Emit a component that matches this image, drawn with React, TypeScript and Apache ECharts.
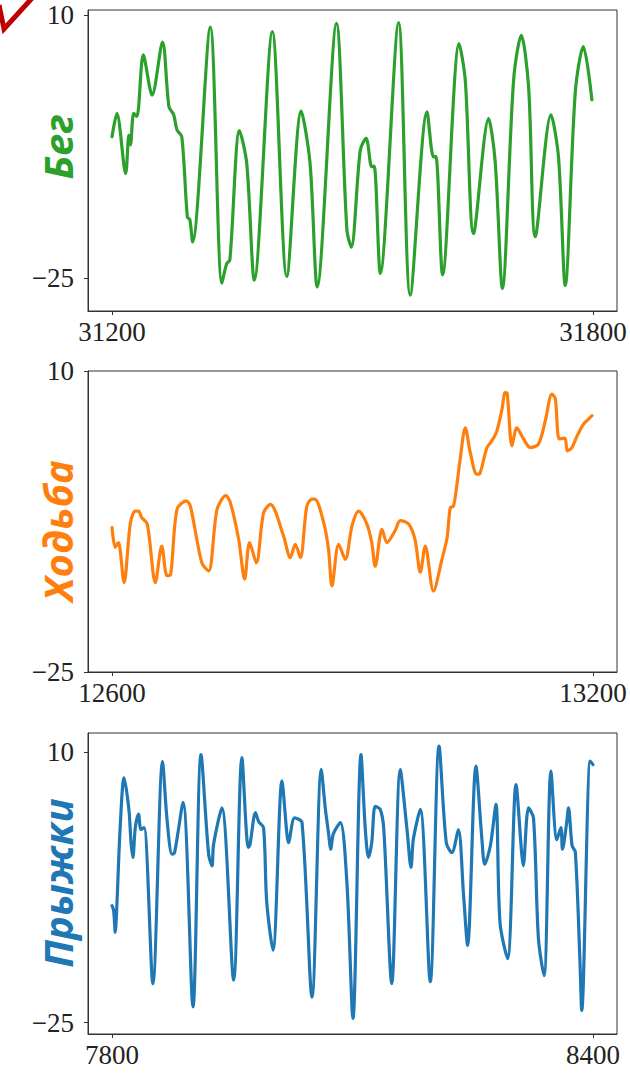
import React, { useEffect, useRef } from "react";
import * as echarts from "echarts";

// ---- Data ----
const runX = [31200, 31206, 31217, 31221, 31223, 31227, 31231, 31239, 31250, 31263, 31271, 31277, 31281, 31287, 31294, 31297, 31300.5, 31322.6, 31337, 31343, 31347, 31359, 31368, 31377.5, 31400, 31418, 31436, 31447, 31456, 31480, 31493, 31498.5, 31509.7, 31517, 31524, 31527, 31534.7, 31557.5, 31572, 31593, 31601, 31604, 31612.4, 31633, 31640.7, 31651, 31669.8, 31678, 31687, 31701, 31710.6, 31719.7, 31728, 31747.6, 31757, 31765.4, 31778, 31788, 31798.7];
const runY = [-6.2, -3.1, -11.1, -6.0, -7.3, -3.1, -3.5, 4.7, -0.65, 6.4, -2.2, -3.3, -5.3, -6.2, -16.9, -17.2, -20.2, 8.4, -25.7, -23.1, -22.6, -5.4, -9.7, -25.3, 7.8, -24.8, -2.8, -9.7, -26.2, 8.9, -18.6, -20.9, -8.0, -6.4, -10.2, -10.1, -24.4, 9.0, -27.3, -2.9, -8.9, -8.8, -24.6, 6.2, 1.35, -19.1, -3.8, -9.5, -26.4, 1.35, 7.3, 0.45, -19.5, -3.3, -8.9, -26.0, -0.2, 5.8, -1.3];

const walkX = [12600, 12604, 12608, 12610, 12615, 12623, 12629, 12633, 12637, 12644, 12654, 12662, 12668.6, 12673, 12681, 12692.7, 12697.7, 12712, 12720.5, 12731, 12742, 12747.6, 12758, 12765.4, 12771.6, 12780, 12789, 12797.5, 12814, 12822.4, 12828.6, 12835, 12843, 12849.5, 12853, 12864, 12870, 12874.4, 12882.7, 12891, 12899.4, 12907.6, 12918, 12924, 12928.4, 12936.8, 12943, 12953, 12959.6, 12970, 12978, 12984.6, 12990.8, 13001, 13011.6, 13018, 13022, 13026, 13030, 13034, 13040.7, 13047, 13055, 13059, 13067.8, 13074, 13080, 13086.4, 13090.5, 13093, 13099, 13105, 13113.4, 13121.8, 13132, 13140.5, 13148.8, 13153, 13158, 13165, 13168, 13173.8, 13180, 13188, 13194.5, 13198.7];
const walkY = [-8.2, -10.5, -9.95, -10.7, -14.6, -7.6, -6.3, -6.3, -7.05, -7.8, -14.6, -10.35, -13.8, -13.7, -6.1, -5.1, -5.7, -12.3, -13.25, -6.1, -4.5, -5.3, -9.6, -14.2, -9.95, -12.3, -6.5, -5.5, -9.2, -11.7, -10.15, -11.7, -5.7, -4.9, -4.9, -7.6, -10.7, -15.0, -10.15, -11.9, -8.0, -6.3, -7.8, -9.95, -12.7, -8.4, -9.95, -8.6, -7.4, -7.8, -9.6, -13.4, -10.35, -15.6, -11.9, -9.4, -5.9, -5.7, -3.4, -0.5, 3.4, 0.5, -2.0, -1.9, 1.1, 1.9, 3.0, 5.5, 7.5, 7.4, 1.3, 3.4, 2.1, 1.1, 1.5, 4.2, 7.3, 6.8, 2.1, 2.2, 0.7, 1.1, 2.4, 3.8, 4.4, 4.8];

const jumpX = [7800, 7802, 7804, 7806, 7810, 7815, 7821, 7823.7, 7826, 7829, 7833, 7836, 7840, 7851, 7863, 7868.6, 7874.8, 7878, 7888.6, 7901, 7911, 7920.5, 7924.7, 7926.7, 7937, 7951.7, 7962, 7970, 7972, 7979, 7983, 7989, 7993, 8000.8, 8012, 8018, 8020, 8027.8, 8037, 8049.5, 8061, 8066, 8070, 8073, 8076, 8084.8, 8093, 8100.6, 8110.6, 8116, 8120, 8124, 8128.4, 8134.6, 8139, 8149, 8159.6, 8168, 8173, 8176, 8184.6, 8197, 8208, 8217, 8224, 8232, 8238.6, 8243.6, 8254, 8261.5, 8265, 8272, 8279, 8284, 8293.5, 8304, 8311, 8313, 8319.6, 8325.8, 8332, 8339, 8347.6, 8355, 8360, 8362, 8367, 8369.5, 8374, 8378, 8383.8, 8386, 8396.6, 8400];
const jumpY = [-9.85, -10.5, -13.3, -9.85, 0.0, 6.7, 2.6, -1.7, -3.6, 0.25, 2.0, 0.0, 0.25, -19.95, 8.8, 1.3, -3.2, -3.0, 3.5, -22.95, 9.7, -3.2, -4.7, -1.9, 2.8, -19.5, 9.3, -2.3, -2.0, 2.2, 1.0, 0.25, -9.4, -15.6, 6.3, -0.4, -1.7, 1.5, 0.9, -21.7, 7.8, 2.8, -0.4, -2.55, -0.6, 0.9, -6.85, -24.45, 9.7, 0.0, -3.6, -1.7, 3.0, 2.6, 0.1, -19.95, 7.75, 0.0, -4.9, -1.2, 2.6, -19.7, 10.8, -1.7, -3.0, 0.0, -8.55, -15.0, 8.2, -1.3, -4.5, -2.1, 3.25, -12.0, -16.7, 5.8, -3.0, -4.7, 2.8, 1.5, -14.15, -18.9, 7.55, -1.3, 0.25, -2.55, 0.7, 2.8, -2.1, -2.9, -17.1, -23.4, 8.85, 8.4];

const runTicks = [31200, 31800];
const walkTicks = [12600, 13200];
const jumpTicks = [7800, 8400];
const yTicks = [-25, 10];

const panelNames = ["Бег", "Ходьба", "Прыжки"];
const panelColors = ["#2ca02c", "#ff7f0e", "#1f77b4"];

const zip = (xs: number[], ys: number[]) => xs.map((x, i) => [x, ys[i]]);

export default function App() {
  const ref = useRef<HTMLDivElement>(null);

  useEffect(() => {
    if (!ref.current) return;
    const chart = echarts.init(ref.current, null, { renderer: "svg" });

    const tops = [10, 371, 733];
    const xRanges = [
      [31170, 31830],
      [12570, 13230],
      [7770, 8430],
    ];
    const yRanges = [
      [-29.4, 10.67],
      [-25, 10],
      [-26.46, 12.49],
    ];
    const xTicks = [runTicks, walkTicks, jumpTicks];
    const data = [zip(runX, runY), zip(walkX, walkY), zip(jumpX, jumpY)];

    const tickFont = {
      fontFamily: "Liberation Serif",
      fontSize: 27,
      color: "#222",
    };

    const option: any = {
      animation: false,
      grid: tops.map((t) => ({
        left: 88,
        top: t,
        width: 529,
        height: 301,
        show: true,
        borderColor: "#333",
        borderWidth: 1,
        backgroundColor: "transparent",
      })),
      xAxis: tops.map((_, i) => ({
        type: "value",
        gridIndex: i,
        min: xRanges[i][0],
        max: xRanges[i][1],
        splitLine: { show: false },
        axisLine: { show: true, onZero: false, lineStyle: { color: "#333", width: 1 } },
        axisTick: {
          show: true,
          inside: false,
          length: 4,
          customValues: xTicks[i],
          lineStyle: { color: "#333" },
        },
        axisLabel: {
          ...tickFont,
          margin: 7,
          customValues: xTicks[i],
          formatter: (v: number) => String(v),
        },
      })),
      yAxis: tops.map((_, i) => ({
        type: "value",
        gridIndex: i,
        min: yRanges[i][0],
        max: yRanges[i][1],
        splitLine: { show: false },
        axisLine: { show: true, onZero: false, lineStyle: { color: "#333", width: 1 } },
        axisTick: {
          show: true,
          inside: false,
          length: 4,
          customValues: yTicks,
          lineStyle: { color: "#333" },
        },
        axisLabel: {
          ...tickFont,
          margin: 14,
          customValues: yTicks,
          formatter: (v: number) => (v < 0 ? "\u2212" + Math.abs(v) : String(v)),
        },
      })),
      series: data.map((d, i) => ({
        type: "line",
        xAxisIndex: i,
        yAxisIndex: i,
        data: d,
        showSymbol: false,
        smooth: 0.3,
        lineStyle: { color: panelColors[i], width: 3.2, join: "round", cap: "round" },
        itemStyle: { color: panelColors[i] },
      })),
      graphic: [
        ...panelNames.map((name, i) => ({
          type: "text",
          x: 57,
          y: [147, 531, 883][i],
          rotation: Math.PI / 2,
          style: {
            text: name,
            fill: panelColors[i],
            font: "italic bold 40px 'Open Sans'",
            align: "center",
            verticalAlign: "middle",
          },
        })),
        {
          type: "polyline",
          shape: {
            points: [
              [-1, 5],
              [4, 29],
              [34, -4],
            ],
          },
          style: { stroke: "#c00000", lineWidth: 5, fill: null },
        },
      ],
    };

    chart.setOption(option);
    return () => chart.dispose();
  }, []);

  return (
    <div
      ref={ref}
      style={{ position: "absolute", left: 0, top: 0, width: 630, height: 1073 }}
    />
  );
}
